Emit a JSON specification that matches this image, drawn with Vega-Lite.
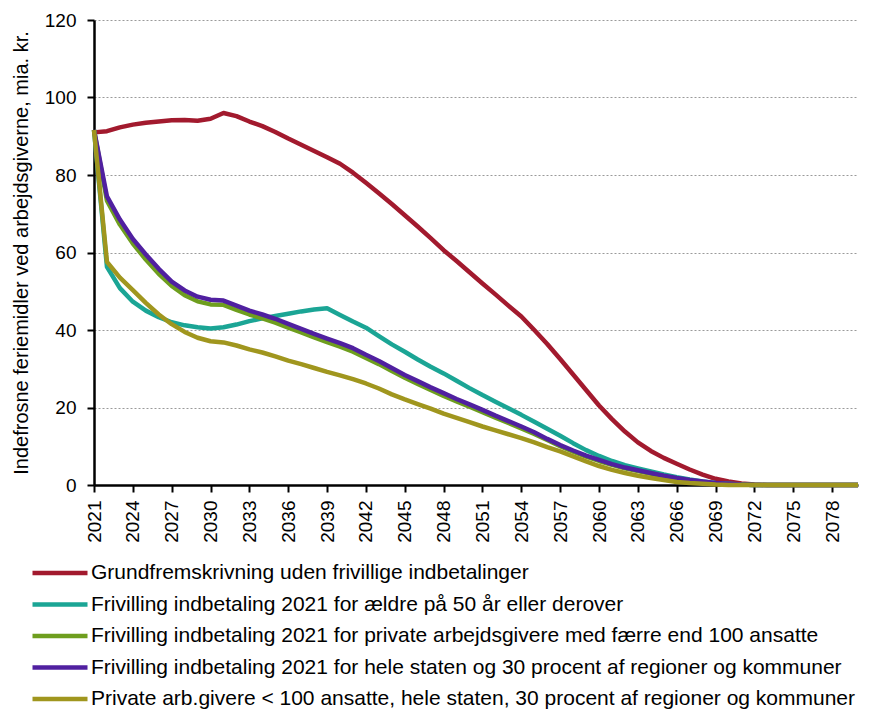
{
  "$schema": "https://vega.github.io/schema/vega-lite/v6.json",
  "width": 764,
  "height": 465,
  "autosize": {"type": "none"},
  "padding": {"left": 94, "top": 20, "right": 11, "bottom": 224},
  "config": {
    "font": "Liberation Sans",
    "view": {"stroke": null},
    "axis": {"labelColor": "#000", "titleColor": "#000"}
  },
  "data": {"values": [
{"x":2021,"s":"A","v":91.0},{"x":2022,"s":"A","v":91.3},{"x":2023,"s":"A","v":92.3},{"x":2024,"s":"A","v":93.0},{"x":2025,"s":"A","v":93.5},{"x":2026,"s":"A","v":93.8},{"x":2027,"s":"A","v":94.1},{"x":2028,"s":"A","v":94.2},{"x":2029,"s":"A","v":94.0},{"x":2030,"s":"A","v":94.5},
{"x":2031,"s":"A","v":96.0},{"x":2032,"s":"A","v":95.2},{"x":2033,"s":"A","v":93.8},{"x":2034,"s":"A","v":92.6},{"x":2035,"s":"A","v":91.1},{"x":2036,"s":"A","v":89.4},{"x":2037,"s":"A","v":87.8},{"x":2038,"s":"A","v":86.2},{"x":2039,"s":"A","v":84.6},{"x":2040,"s":"A","v":82.9},
{"x":2041,"s":"A","v":80.6},{"x":2042,"s":"A","v":78.0},{"x":2043,"s":"A","v":75.3},{"x":2044,"s":"A","v":72.5},{"x":2045,"s":"A","v":69.6},{"x":2046,"s":"A","v":66.7},{"x":2047,"s":"A","v":63.7},{"x":2048,"s":"A","v":60.6},{"x":2049,"s":"A","v":57.8},{"x":2050,"s":"A","v":54.9},
{"x":2051,"s":"A","v":52.0},{"x":2052,"s":"A","v":49.2},{"x":2053,"s":"A","v":46.3},{"x":2054,"s":"A","v":43.5},{"x":2055,"s":"A","v":40.0},{"x":2056,"s":"A","v":36.4},{"x":2057,"s":"A","v":32.5},{"x":2058,"s":"A","v":28.5},{"x":2059,"s":"A","v":24.5},{"x":2060,"s":"A","v":20.5},
{"x":2061,"s":"A","v":17.0},{"x":2062,"s":"A","v":13.8},{"x":2063,"s":"A","v":11.0},{"x":2064,"s":"A","v":8.8},{"x":2065,"s":"A","v":7.0},{"x":2066,"s":"A","v":5.5},{"x":2067,"s":"A","v":4.0},{"x":2068,"s":"A","v":2.7},{"x":2069,"s":"A","v":1.6},{"x":2070,"s":"A","v":0.9},
{"x":2071,"s":"A","v":0.4},{"x":2072,"s":"A","v":0.1},{"x":2073,"s":"A","v":0},{"x":2074,"s":"A","v":0},{"x":2075,"s":"A","v":0},{"x":2076,"s":"A","v":0},{"x":2077,"s":"A","v":0},{"x":2078,"s":"A","v":0},{"x":2079,"s":"A","v":0},{"x":2080,"s":"A","v":0},
{"x":2021,"s":"B","v":91.6},{"x":2022,"s":"B","v":56.3},{"x":2023,"s":"B","v":50.8},{"x":2024,"s":"B","v":47.3},{"x":2025,"s":"B","v":45.0},{"x":2026,"s":"B","v":43.3},{"x":2027,"s":"B","v":42.0},{"x":2028,"s":"B","v":41.2},{"x":2029,"s":"B","v":40.7},{"x":2030,"s":"B","v":40.4},
{"x":2031,"s":"B","v":40.7},{"x":2032,"s":"B","v":41.4},{"x":2033,"s":"B","v":42.3},{"x":2034,"s":"B","v":43.0},{"x":2035,"s":"B","v":43.6},{"x":2036,"s":"B","v":44.2},{"x":2037,"s":"B","v":44.8},{"x":2038,"s":"B","v":45.3},{"x":2039,"s":"B","v":45.6},{"x":2040,"s":"B","v":43.9},
{"x":2041,"s":"B","v":42.2},{"x":2042,"s":"B","v":40.6},{"x":2043,"s":"B","v":38.4},{"x":2044,"s":"B","v":36.3},{"x":2045,"s":"B","v":34.4},{"x":2046,"s":"B","v":32.4},{"x":2047,"s":"B","v":30.5},{"x":2048,"s":"B","v":28.8},{"x":2049,"s":"B","v":26.9},{"x":2050,"s":"B","v":25.0},
{"x":2051,"s":"B","v":23.2},{"x":2052,"s":"B","v":21.5},{"x":2053,"s":"B","v":19.8},{"x":2054,"s":"B","v":18.1},{"x":2055,"s":"B","v":16.3},{"x":2056,"s":"B","v":14.5},{"x":2057,"s":"B","v":12.7},{"x":2058,"s":"B","v":10.8},{"x":2059,"s":"B","v":9.0},{"x":2060,"s":"B","v":7.5},
{"x":2061,"s":"B","v":6.2},{"x":2062,"s":"B","v":5.1},{"x":2063,"s":"B","v":4.3},{"x":2064,"s":"B","v":3.5},{"x":2065,"s":"B","v":2.7},{"x":2066,"s":"B","v":2.0},{"x":2067,"s":"B","v":1.4},{"x":2068,"s":"B","v":0.9},{"x":2069,"s":"B","v":0.5},{"x":2070,"s":"B","v":0.3},
{"x":2071,"s":"B","v":0.1},{"x":2072,"s":"B","v":0},{"x":2073,"s":"B","v":0},{"x":2074,"s":"B","v":0},{"x":2075,"s":"B","v":0},{"x":2076,"s":"B","v":0},{"x":2077,"s":"B","v":0},{"x":2078,"s":"B","v":0},{"x":2079,"s":"B","v":0},{"x":2080,"s":"B","v":0},
{"x":2021,"s":"C","v":91.6},{"x":2022,"s":"C","v":73.4},{"x":2023,"s":"C","v":67.2},{"x":2024,"s":"C","v":62.3},{"x":2025,"s":"C","v":58.2},{"x":2026,"s":"C","v":54.5},{"x":2027,"s":"C","v":51.4},{"x":2028,"s":"C","v":49.0},{"x":2029,"s":"C","v":47.4},{"x":2030,"s":"C","v":46.6},
{"x":2031,"s":"C","v":46.5},{"x":2032,"s":"C","v":45.2},{"x":2033,"s":"C","v":44.0},{"x":2034,"s":"C","v":43.0},{"x":2035,"s":"C","v":41.9},{"x":2036,"s":"C","v":40.6},{"x":2037,"s":"C","v":39.4},{"x":2038,"s":"C","v":38.1},{"x":2039,"s":"C","v":36.9},{"x":2040,"s":"C","v":35.7},
{"x":2041,"s":"C","v":34.4},{"x":2042,"s":"C","v":32.8},{"x":2043,"s":"C","v":31.2},{"x":2044,"s":"C","v":29.4},{"x":2045,"s":"C","v":27.7},{"x":2046,"s":"C","v":26.1},{"x":2047,"s":"C","v":24.5},{"x":2048,"s":"C","v":23.0},{"x":2049,"s":"C","v":21.6},{"x":2050,"s":"C","v":20.2},
{"x":2051,"s":"C","v":18.8},{"x":2052,"s":"C","v":17.4},{"x":2053,"s":"C","v":16.0},{"x":2054,"s":"C","v":14.6},{"x":2055,"s":"C","v":13.2},{"x":2056,"s":"C","v":11.6},{"x":2057,"s":"C","v":10.0},{"x":2058,"s":"C","v":8.6},{"x":2059,"s":"C","v":7.3},{"x":2060,"s":"C","v":6.2},
{"x":2061,"s":"C","v":5.2},{"x":2062,"s":"C","v":4.3},{"x":2063,"s":"C","v":3.6},{"x":2064,"s":"C","v":2.9},{"x":2065,"s":"C","v":2.2},{"x":2066,"s":"C","v":1.6},{"x":2067,"s":"C","v":1.1},{"x":2068,"s":"C","v":0.7},{"x":2069,"s":"C","v":0.4},{"x":2070,"s":"C","v":0.2},
{"x":2071,"s":"C","v":0.1},{"x":2072,"s":"C","v":0},{"x":2073,"s":"C","v":0},{"x":2074,"s":"C","v":0},{"x":2075,"s":"C","v":0},{"x":2076,"s":"C","v":0},{"x":2077,"s":"C","v":0},{"x":2078,"s":"C","v":0},{"x":2079,"s":"C","v":0},{"x":2080,"s":"C","v":0},
{"x":2021,"s":"D","v":91.6},{"x":2022,"s":"D","v":74.5},{"x":2023,"s":"D","v":68.5},{"x":2024,"s":"D","v":63.5},{"x":2025,"s":"D","v":59.5},{"x":2026,"s":"D","v":55.8},{"x":2027,"s":"D","v":52.5},{"x":2028,"s":"D","v":50.2},{"x":2029,"s":"D","v":48.6},{"x":2030,"s":"D","v":47.8},
{"x":2031,"s":"D","v":47.6},{"x":2032,"s":"D","v":46.3},{"x":2033,"s":"D","v":45.0},{"x":2034,"s":"D","v":44.0},{"x":2035,"s":"D","v":42.9},{"x":2036,"s":"D","v":41.6},{"x":2037,"s":"D","v":40.3},{"x":2038,"s":"D","v":39.0},{"x":2039,"s":"D","v":37.8},{"x":2040,"s":"D","v":36.6},
{"x":2041,"s":"D","v":35.3},{"x":2042,"s":"D","v":33.6},{"x":2043,"s":"D","v":32.0},{"x":2044,"s":"D","v":30.2},{"x":2045,"s":"D","v":28.4},{"x":2046,"s":"D","v":26.8},{"x":2047,"s":"D","v":25.2},{"x":2048,"s":"D","v":23.7},{"x":2049,"s":"D","v":22.2},{"x":2050,"s":"D","v":20.8},
{"x":2051,"s":"D","v":19.4},{"x":2052,"s":"D","v":17.9},{"x":2053,"s":"D","v":16.5},{"x":2054,"s":"D","v":15.1},{"x":2055,"s":"D","v":13.6},{"x":2056,"s":"D","v":11.9},{"x":2057,"s":"D","v":10.3},{"x":2058,"s":"D","v":8.9},{"x":2059,"s":"D","v":7.6},{"x":2060,"s":"D","v":6.5},
{"x":2061,"s":"D","v":5.4},{"x":2062,"s":"D","v":4.5},{"x":2063,"s":"D","v":3.8},{"x":2064,"s":"D","v":3.1},{"x":2065,"s":"D","v":2.4},{"x":2066,"s":"D","v":1.8},{"x":2067,"s":"D","v":1.3},{"x":2068,"s":"D","v":0.9},{"x":2069,"s":"D","v":0.5},{"x":2070,"s":"D","v":0.3},
{"x":2071,"s":"D","v":0.1},{"x":2072,"s":"D","v":0},{"x":2073,"s":"D","v":0},{"x":2074,"s":"D","v":0},{"x":2075,"s":"D","v":0},{"x":2076,"s":"D","v":0},{"x":2077,"s":"D","v":0},{"x":2078,"s":"D","v":0},{"x":2079,"s":"D","v":0},{"x":2080,"s":"D","v":0},
{"x":2021,"s":"E","v":91.6},{"x":2022,"s":"E","v":57.6},{"x":2023,"s":"E","v":53.5},{"x":2024,"s":"E","v":50.3},{"x":2025,"s":"E","v":47.0},{"x":2026,"s":"E","v":44.0},{"x":2027,"s":"E","v":41.5},{"x":2028,"s":"E","v":39.5},{"x":2029,"s":"E","v":38.0},{"x":2030,"s":"E","v":37.1},
{"x":2031,"s":"E","v":36.8},{"x":2032,"s":"E","v":36.0},{"x":2033,"s":"E","v":35.0},{"x":2034,"s":"E","v":34.2},{"x":2035,"s":"E","v":33.2},{"x":2036,"s":"E","v":32.1},{"x":2037,"s":"E","v":31.2},{"x":2038,"s":"E","v":30.2},{"x":2039,"s":"E","v":29.2},{"x":2040,"s":"E","v":28.3},
{"x":2041,"s":"E","v":27.3},{"x":2042,"s":"E","v":26.2},{"x":2043,"s":"E","v":24.9},{"x":2044,"s":"E","v":23.4},{"x":2045,"s":"E","v":22.1},{"x":2046,"s":"E","v":20.9},{"x":2047,"s":"E","v":19.7},{"x":2048,"s":"E","v":18.4},{"x":2049,"s":"E","v":17.3},{"x":2050,"s":"E","v":16.2},
{"x":2051,"s":"E","v":15.1},{"x":2052,"s":"E","v":14.1},{"x":2053,"s":"E","v":13.1},{"x":2054,"s":"E","v":12.1},{"x":2055,"s":"E","v":11.0},{"x":2056,"s":"E","v":9.8},{"x":2057,"s":"E","v":8.7},{"x":2058,"s":"E","v":7.4},{"x":2059,"s":"E","v":6.1},{"x":2060,"s":"E","v":4.9},
{"x":2061,"s":"E","v":3.9},{"x":2062,"s":"E","v":3.1},{"x":2063,"s":"E","v":2.4},{"x":2064,"s":"E","v":1.8},{"x":2065,"s":"E","v":1.3},{"x":2066,"s":"E","v":0.8},{"x":2067,"s":"E","v":0.5},{"x":2068,"s":"E","v":0.3},{"x":2069,"s":"E","v":0.1},{"x":2070,"s":"E","v":0},
{"x":2071,"s":"E","v":0},{"x":2072,"s":"E","v":0},{"x":2073,"s":"E","v":0},{"x":2074,"s":"E","v":0},{"x":2075,"s":"E","v":0},{"x":2076,"s":"E","v":0},{"x":2077,"s":"E","v":0},{"x":2078,"s":"E","v":0},{"x":2079,"s":"E","v":0},{"x":2080,"s":"E","v":0}
  ]},
  "mark": {"type": "line", "strokeWidth": 4.5, "strokeJoin": "round", "strokeCap": "butt"},
  "encoding": {
    "x": {
      "field": "x", "type": "quantitative",
      "scale": {"domain": [2021, 2080], "nice": false, "zero": false},
      "axis": {
        "title": null,
        "values": [2021,2024,2027,2030,2033,2036,2039,2042,2045,2048,2051,2054,2057,2060,2063,2066,2069,2072,2075,2078],
        "format": "d",
        "labelAngle": 270,
        "labelAlign": "right",
        "labelBaseline": "middle",
        "labelFontSize": 19,
        "labelPadding": 8,
        "labelFlush": false,
        "labelOverlap": false,
        "domainColor": "#000", "domainWidth": 2.5,
        "tickColor": "#000", "tickWidth": 2, "tickSize": 7,
        "grid": false
      }
    },
    "y": {
      "field": "v", "type": "quantitative",
      "scale": {"domain": [0, 120], "nice": false},
      "axis": {
        "title": "Indefrosne feriemidler ved arbejdsgiverne, mia. kr.",
        "titleFontSize": 20, "titleFontWeight": "normal", "titlePadding": 13,
        "values": [0,20,40,60,80,100,120],
        "labelFontSize": 19, "labelPadding": 11,
        "domainColor": "#000", "domainWidth": 2.5,
        "tickColor": "#000", "tickWidth": 2, "tickSize": 7,
        "grid": true, "gridColor": "#9a9a9a", "gridDash": [2, 2], "gridWidth": 1
      }
    },
    "color": {
      "field": "s", "type": "nominal",
      "scale": {"domain": ["A","B","C","D","E"], "range": ["#A21A2E","#1BA595","#6E9E1E","#5020A0","#A0961E"]},
      "legend": {
        "title": null,
        "orient": "none",
        "legendX": -64,
        "legendY": 543,
        "direction": "vertical",
        "padding": 0,
        "symbolType": "stroke",
        "symbolSize": 3025,
        "symbolStrokeWidth": 4.5,
        "clipHeight": 20,
        "labelFontSize": 21,
        "labelColor": "#000",
        "labelOffset": 1,
        "labelLimit": 900,
        "rowPadding": 10.5,
        "labelExpr": "datum.label == 'A' ? 'Grundfremskrivning uden frivillige indbetalinger' : datum.label == 'B' ? 'Frivilling indbetaling 2021 for ældre på 50 år eller derover' : datum.label == 'C' ? 'Frivilling indbetaling 2021 for private arbejdsgivere med færre end 100 ansatte' : datum.label == 'D' ? 'Frivilling indbetaling 2021 for hele staten og 30 procent af regioner og kommuner' : 'Private arb.givere < 100 ansatte, hele staten, 30 procent af regioner og kommuner'"
      }
    }
  }
}
